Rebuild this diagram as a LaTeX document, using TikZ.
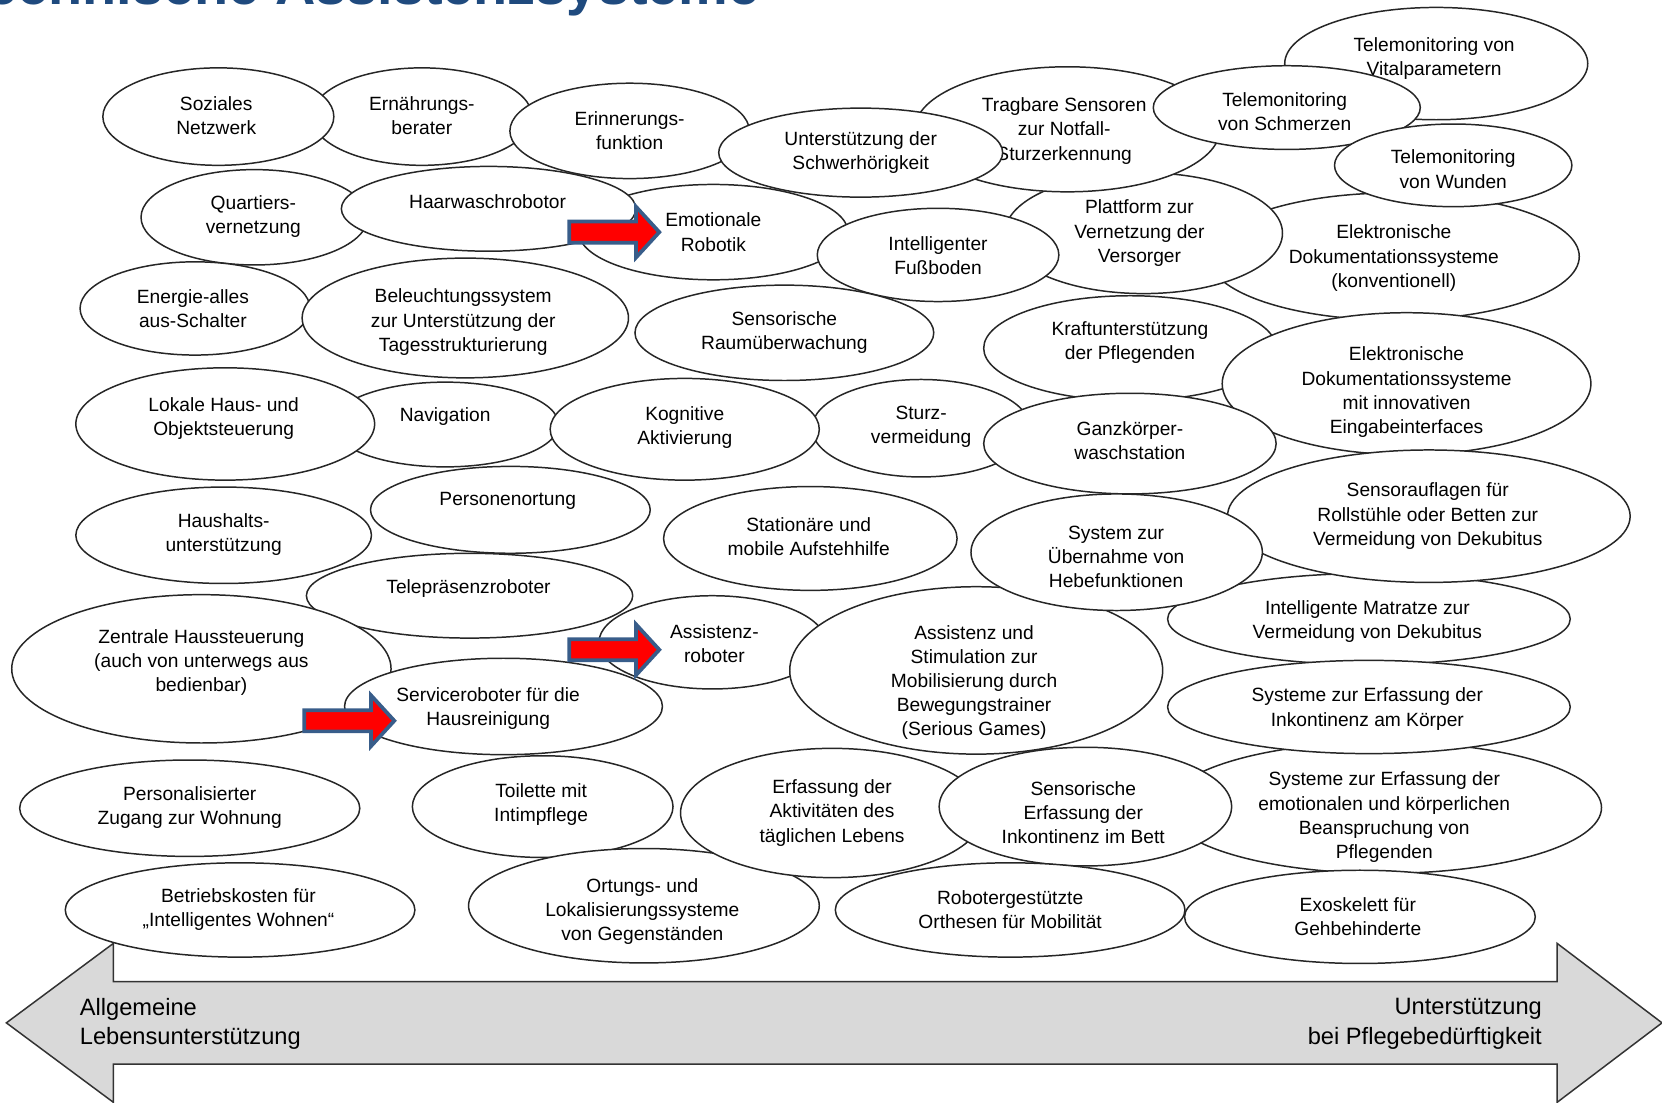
\documentclass[tikz,border=0pt]{standalone}
\usepackage{fontspec}
\setmainfont{Liberation Sans}
\usepackage{tikz}
\usetikzlibrary{shapes.geometric}
\definecolor{titleblue}{HTML}{1F4A7E}
\definecolor{arrowrim}{HTML}{385D8A}
\definecolor{bandgray}{HTML}{D9D9D9}

\begin{document}
\begin{tikzpicture}[x=0.02cm, y=-0.02cm, ell/.style 2 args={minimum width=#1*0.04cm, minimum height=#2*0.04cm}]

    \tikzstyle{blob}=[ellipse, draw=black!85, fill=white, line width=0.8pt, inner sep=0pt]
    \tikzstyle{txt}=[font=\fontsize{10.3}{13}\selectfont, align=center, inner sep=0pt]
    \tikzstyle{band}=[draw=black!80, fill=bandgray, line width=0.8pt, line join=miter]
    \tikzstyle{bandtxt}=[font=\fontsize{12.7}{16}\selectfont, inner sep=0pt]
    \tikzstyle{pointer}=[draw=arrowrim, fill=red, line width=2pt]

    % Frame
    \useasboundingbox (0,0) rectangle (1568,1040);
    \clip (0,0) rectangle (1568,1040);
    \fill[white] (0,0) rectangle (1568,1040);

    % Title (cut by the top edge)
    \node[anchor=base east, inner sep=0pt, text=titleblue, font=\fontsize{30}{34}\selectfont\bfseries] (title) at (717,4.3) {Technische Assistenzsysteme};

    % Axis at the bottom
    \draw[band] (6,965) -- (107,890) -- (107,926) -- (1469,926) -- (1469,890) -- (1568,965)
        -- (1469,1040) -- (1469,1004) -- (107,1004) -- (107,1040) -- cycle;
    \node[bandtxt, anchor=west, align=left] (general) at (75,966) {Allgemeine\\Lebensunterstützung};
    \node[bandtxt, anchor=east, align=right] (care) at (1455,966) {Unterstützung\\bei Pflegebedürftigkeit};

    % Top rows
    \node at (398,110) [blob, ell={104}{46}] (ern) {};
    \node at (398,109) [txt] (ern-t) {Ernährungs-\\berater};
    \node at (206,110) [blob, ell={109}{46}] (soz) {};
    \node at (204,109) [txt] (soz-t) {Soziales\\Netzwerk};
    \node at (594,123.5) [blob, ell={113}{45}] (erin) {};
    \node at (594,123) [txt] (erin-t) {Erinnerungs-\\funktion};
    \node at (240,205) [blob, ell={107}{45}] (quar) {};
    \node at (239,204.5) [txt] (quar-t) {Quartiers-\\vernetzung};
    \node at (1315,242) [blob, ell={175}{60}] (ekon) {};
    \node at (1315,243.5) [txt] (ekon-t) {Elektronische\\Dokumentationssysteme\\(konventionell)};
    \node at (1079,220) [blob, ell={131}{57}] (platt) {};
    \node at (1075,220) [txt] (platt-t) {Plattform zur\\Vernetzung der\\Versorger};
    \node at (673,219) [blob, ell={127}{45}] (emot) {};
    \node at (673,219) [txt] (emot-t) {Emotionale\\Robotik};
    \node at (1007,122) [blob, ell={144}{59}] (trag) {};
    \node at (1004,123.5) [txt] (trag-t) {Tragbare Sensoren\\zur Notfall-\\Sturzerkennung};
    \node at (812,144) [blob, ell={134}{42}] (hoer) {};
    \node at (812,144) [txt] (hoer-t) {Unterstützung der\\Schwerhörigkeit};
    \node at (1355,60) [blob, ell={143}{53}] (vital) {};
    \node at (1353,55) [txt] (vital-t) {Telemonitoring von\\Vitalparametern};
    \node at (1214,101.5) [blob, ell={126}{39.5}] (schm) {};
    \node at (1212,105.5) [txt] (schm-t) {Telemonitoring\\von Schmerzen};
    \node at (1371,156) [blob, ell={112}{39}] (wund) {};
    \node at (1371,159.5) [txt] (wund-t) {Telemonitoring\\von Wunden};
    \node at (461,197) [blob, ell={139}{40}] (haar) {};
    \node at (460,190) [txt] (haar-t) {Haarwaschrobotor};
    \node at (885,240.5) [blob, ell={114}{44}] (fuss) {};
    \node at (885,241) [txt] (fuss-t) {Intelligenter\\Fußboden};

    % Middle rows
    \node at (184,291) [blob, ell={108.5}{44}] (ener) {};
    \node at (182,291) [txt] (ener-t) {Energie-alles\\aus-Schalter};
    \node at (439,300) [blob, ell={154}{56.5}] (licht) {};
    \node at (437,304) [txt] (licht-t) {Beleuchtungssystem\\zur Unterstützung der\\Tagesstrukturierung};
    \node at (740,314) [blob, ell={141}{45}] (raum) {};
    \node at (740,314) [txt] (raum-t) {Sensorische\\Raumüberwachung};
    \node at (1066,328.5) [blob, ell={138}{49.5}] (kraft) {};
    \node at (1066,323.5) [txt] (kraft-t) {Kraftunterstützung\\der Pflegenden};
    \node at (1327,362) [blob, ell={174}{67}] (innov) {};
    \node at (1327,370) [txt] (innov-t) {Elektronische\\Dokumentationssysteme\\mit innovativen\\Eingabeinterfaces};
    \node at (420,400.5) [blob, ell={107}{40}] (navi) {};
    \node at (420,393) [txt] (navi-t) {Navigation};
    \node at (212.5,400) [blob, ell={141}{53}] (lokal) {};
    \node at (211,394.5) [txt] (lokal-t) {Lokale Haus- und\\Objektsteuerung};
    \node at (869,404) [blob, ell={103}{46}] (sturz) {};
    \node at (869,403) [txt] (sturz-t) {Sturz-\\vermeidung};
    \node at (646,405) [blob, ell={127}{48}] (kogn) {};
    \node at (646,403) [txt] (kogn-t) {Kognitive\\Aktivierung};
    \node at (1066,418.5) [blob, ell={138}{47.5}] (ganz) {};
    \node at (1066,416) [txt] (ganz-t) {Ganzkörper-\\waschstation};
    \node at (211,505) [blob, ell={139.5}{45.5}] (haus) {};
    \node at (211,504) [txt] (haus-t) {Haushalts-\\unterstützung};
    \node at (481.5,481) [blob, ell={132}{41}] (ortp) {};
    \node at (479,473) [txt] (ortp-t) {Personenortung};
    \node at (764.5,508) [blob, ell={138.5}{49}] (steh) {};
    \node at (763,506.5) [txt] (steh-t) {Stationäre und\\mobile Aufstehhilfe};
    \node at (1291.5,584) [blob, ell={190}{43}] (matr) {};
    \node at (1290,586.5) [txt] (matr-t) {Intelligente Matratze zur\\Vermeidung von Dekubitus};
    \node at (1348,487) [blob, ell={190}{62.5}] (auflage) {};
    \node at (1347,487) [txt] (auflage-t) {Sensorauflagen für\\Rollstühle oder Betten zur\\Vermeidung von Dekubitus};
    \node at (443,562) [blob, ell={154}{40}] (tele) {};
    \node at (442,555) [txt] (tele-t) {Telepräsenzroboter};
    \node at (672,606) [blob, ell={107}{44}] (arob) {};
    \node at (674,607) [txt] (arob-t) {Assistenz-\\roboter};
    \node at (190,631) [blob, ell={179}{70}] (zentr) {};
    \node at (190,625) [txt] (zentr-t) {Zentrale Haussteuerung\\(auch von unterwegs aus\\bedienbar)};
    \node at (475,666.5) [blob, ell={150}{45.5}] (serv) {};
    \node at (460.5,668.5) [txt] (serv-t) {Serviceroboter für die\\Hausreinigung};
    \node at (921,632.5) [blob, ell={176}{79}] (mobil) {};
    \node at (919,644) [txt] (mobil-t) {Assistenz und\\Stimulation zur\\Mobilisierung durch\\Bewegungstrainer\\(Serious Games)};
    \node at (1053.5,521) [blob, ell={137.5}{55}] (hebe) {};
    \node at (1053,525.5) [txt] (hebe-t) {System zur\\Übernahme von\\Hebefunktionen};

    % Lower rows
    \node at (1306,762) [blob, ell={205}{62}] (belast) {};
    \node at (1306,771) [txt] (belast-t) {Systeme zur Erfassung der\\emotionalen und körperlichen\\Beanspruchung von\\Pflegenden};
    \node at (1291.5,667) [blob, ell={190}{44}] (koerp) {};
    \node at (1290,669) [txt] (koerp-t) {Systeme zur Erfassung der\\Inkontinenz am Körper};
    \node at (179,762.5) [blob, ell={160.5}{45.5}] (zugang) {};
    \node at (179,762) [txt] (zugang-t) {Personalisierter\\Zugang zur Wohnung};
    \node at (512,761) [blob, ell={123}{48}] (toil) {};
    \node at (510.5,759) [txt] (toil-t) {Toilette mit\\Intimpflege};
    \node at (607.5,854.5) [blob, ell={165.5}{54}] (ortg) {};
    \node at (606,860) [txt] (ortg-t) {Ortungs- und\\Lokalisierungssysteme\\von Gegenständen};
    \node at (785,767) [blob, ell={143}{61}] (adl) {};
    \node at (785,767) [txt] (adl-t) {Erfassung der\\Aktivitäten des\\täglichen Lebens};
    \node at (1024,761) [blob, ell={138}{56}] (bett) {};
    \node at (1022,766.5) [txt] (bett-t) {Sensorische\\Erfassung der\\Inkontinenz im Bett};
    \node at (953,858.5) [blob, ell={165}{44.5}] (orth) {};
    \node at (953,858.5) [txt] (orth-t) {Robotergestützte\\Orthesen für Mobilität};
    \node at (1283,865) [blob, ell={165.5}{44}] (exo) {};
    \node at (1281,864.5) [txt] (exo-t) {Exoskelett für\\Gehbehinderte};
    \node at (226.5,858.5) [blob, ell={165}{44.5}] (kost) {};
    \node at (225,858) [txt] (kost-t) {Betriebskosten für\\„Intelligentes Wohnen“};

    % Red markers
    \draw[pointer] (537,209) -- (600,209) -- (600,195) -- (622,219) -- (600,243) -- (600,229) -- (537,229) -- cycle;
    \draw[pointer] (537,603) -- (600,603) -- (600,589) -- (622,613) -- (600,637) -- (600,623) -- (537,623) -- cycle;
    \draw[pointer] (287,670) -- (350,670) -- (350,656) -- (372,680) -- (350,704) -- (350,690) -- (287,690) -- cycle;

\end{tikzpicture}
\end{document}
